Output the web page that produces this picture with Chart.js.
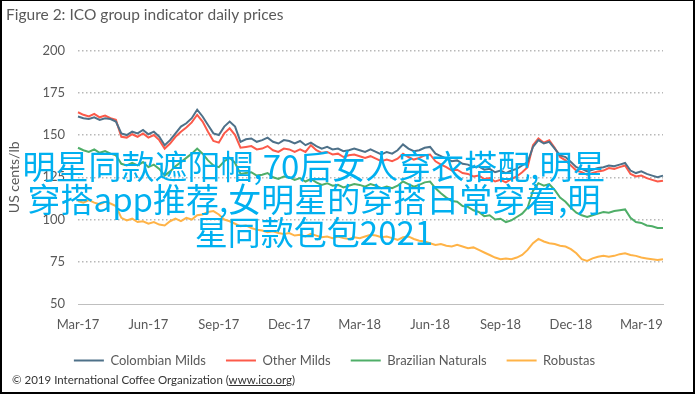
<!DOCTYPE html>
<html>
<head>
<meta charset="utf-8">
<script src="https://cdn.jsdelivr.net/npm/chart.js@4.4.1/dist/chart.umd.min.js"></script>
<style>
body { margin: 0; background: #fff; }
#wrap { position: relative; width: 695px; height: 394px; overflow: hidden; }
#chart { position: absolute; left: 0; top: 0; }
#frame { position: absolute; left: 0; top: 0; width: 695px; height: 394px; box-sizing: border-box; border: 2px solid #000; border-top-width: 1px; pointer-events: none; }
#source { position: absolute; left: 12px; top: 373px; font: 11.5px Lato, sans-serif; color: #333; }
#mark { position: absolute; left: 0; top: 149px; width: 628px; text-align: center; font: 33px/33px "Noto Sans CJK SC", sans-serif; color: #00b0f0; }
</style>
</head>
<body>
<div id="wrap">
  <canvas id="chart" width="695" height="394"></canvas>
  <div id="mark">明星同款遮阳帽,70后女人穿衣搭配,明星<br>穿搭app推荐,女明星的穿搭日常穿着,明<br>星同款包包2021</div>
  <div id="source">© 2019 International Coffee Organization (<u>www.ico.org</u>)</div>
  <div id="frame"></div>
</div>
<script>
"use strict";

// one label every 13 weeks
const quarterLabels = ['Mar-17', 'Jun-17', 'Sep-17', 'Dec-17', 'Mar-18', 'Jun-18', 'Sep-18', 'Dec-18', 'Mar-19'];
const weeksPerLabel = 13;

// weekly readings, US cents/lb
const colombianMilds = [161, 160, 159.5, 160.5, 159, 160, 159.5, 158, 151, 150,
    152, 151, 153, 150.5, 152, 149, 144, 147, 151, 155,
    157, 160, 165, 161, 156, 151, 150, 155, 158, 155,
    146, 147.5, 148, 146, 147, 148.5, 146, 145, 147, 146.5,
    145, 146.5, 144, 145.5, 143.5, 142, 143, 141.5, 142, 140.5,
    141, 142, 141, 140, 141.5, 140, 138.5, 140, 139, 141,
    144.5, 142, 140.5, 141, 142.5, 143, 139, 137.5, 136, 134.5,
    135, 133, 132.5, 131, 131.5, 129.5, 130, 128, 129, 127.5,
    129, 130, 132, 134, 143, 147, 145, 146, 142, 138,
    137, 134, 131, 130, 128.5, 129.5, 130.5, 131, 132, 131.5,
    132.5, 133.5, 129, 127.5, 128.5, 127, 126, 125, 126];

const otherMilds = [163.5, 162, 161, 162.5, 160.5, 161.5, 160, 159, 149, 148.5,
    150.5, 149, 151, 148.5, 150, 147, 142, 145, 149, 152,
    154.5, 157.5, 162, 158, 152, 146.5, 145.5, 151, 154, 150,
    142.5, 143, 143.5, 141.5, 142, 143.5, 141, 140, 142, 141.5,
    140, 141.5, 140, 144, 141, 139.5, 140, 138.5, 139, 137,
    138, 138.5, 137.5, 136.5, 137.5, 136, 134.5, 135.5, 134.5, 136,
    139, 137, 135.5, 136.5, 138, 138.5, 134.5, 132.5, 131, 129,
    129.5, 127.5, 127, 125.5, 126, 124, 124.5, 122.5, 123.5, 122,
    124, 125.5, 128, 131, 144, 148, 145.5, 147, 142.5, 137,
    135, 132, 129, 128, 126.5, 127.5, 128.5, 129, 130.5, 130,
    131, 132, 127, 125.5, 126, 124.5, 123.5, 122.5, 123];

const brazilianNaturals = [142.5, 141, 140, 141.5, 139.5, 140.5, 139, 138, 133, 132,
    133.5, 132, 134, 131, 132.5, 130, 126, 128.5, 131.5, 134,
    136.5, 139, 142, 139, 135, 132, 131, 134.5, 136.5, 133.5,
    127, 127.5, 128, 126, 126.5, 127.5, 125, 124, 125.5, 125,
    123.5, 124.5, 122.5, 124, 122, 120.5, 121.5, 120, 120.5, 119,
    120, 121, 120.5, 119.5, 121, 120, 118.5, 119.5, 118.5, 120,
    122.5, 121, 119.5, 120.5, 122, 122.5, 118.5, 115.5, 113, 111,
    110.5, 108, 107.5, 105.5, 104.5, 102, 102.5, 100, 100.5, 98.5,
    99.5, 101.5, 103.5, 107, 117, 121.5, 120, 121, 117.5, 113,
    110.5, 107, 104, 102.5, 101.5, 102.5, 103.5, 104.5, 104, 105,
    105.5, 106, 101, 98.5, 98, 96.5, 96, 95, 95];

const robustas = [111, 110, 111.5, 110, 109, 110.5, 109.5, 108, 101, 99.5,
    100.5, 98.5, 99, 97.5, 98.5, 97, 96.5, 99, 100.5, 99,
    101, 100, 102.5, 103, 104.5, 105, 103, 100, 99, 97.5,
    96, 96.5, 95, 94, 93.5, 92.5, 93, 92, 91.5, 92,
    90.5, 91, 90, 91.5, 90.5, 89.5, 90, 89, 90, 89,
    88.5, 89.5, 89, 90, 91, 90.5, 89.5, 90, 89, 88,
    89.5, 90, 88.5, 87.5, 87, 86, 85, 85.5, 84.5, 84,
    85, 84, 83, 83.5, 82, 80.5, 79, 77.5, 76.5, 77,
    76.5, 77.5, 79, 82, 86, 88.5, 87, 86, 85.5, 84.5,
    84, 82.5, 80, 76.5, 75.5, 77, 78, 78.5, 78, 78.5,
    79.5, 80, 79, 78.5, 77.5, 77, 76.5, 76, 76.5];

const weeks = colombianMilds.map(function (v, i) { return i; });

const textGrey = '#595959';
const axisFont = { family: 'Lato', size: 13 };

function series(label, data, color) {
    return {
        label: label,
        data: data,
        borderColor: color,
        backgroundColor: color,
        borderWidth: 2,
        pointRadius: 0,
        tension: 0,
        fill: false
    };
}

new Chart(document.getElementById('chart'), {
    type: 'line',
    data: {
        labels: weeks,
        datasets: [
            series('Colombian Milds', colombianMilds, '#4e7189'),
            series('Other Milds', otherMilds, '#fc5a4a'),
            series('Brazilian Naturals', brazilianNaturals, '#4fae68'),
            series('Robustas', robustas, '#ffb347')
        ]
    },
    options: {
        responsive: false,
        animation: false,
        layout: { padding: { top: 0, left: 6, right: 32, bottom: 17 } },
        plugins: {
            title: {
                display: true,
                text: 'Figure 2: ICO group indicator daily prices',
                align: 'start',
                color: textGrey,
                font: { family: 'Lato', size: 15.5, weight: 'normal' },
                padding: { top: 6, bottom: 26 }
            },
            legend: {
                position: 'bottom',
                labels: {
                    usePointStyle: true,
                    pointStyle: 'line',
                    pointStyleWidth: 30,
                    boxWidth: 30,
                    boxHeight: 12,
                    padding: 20,
                    color: textGrey,
                    font: axisFont
                }
            },
            tooltip: { enabled: false }
        },
        scales: {
            x: {
                type: 'category',
                offset: false,
                grid: { display: false, drawTicks: false },
                border: { display: true, color: '#bfbfbf', width: 1 },
                ticks: {
                    autoSkip: false,
                    maxRotation: 0,
                    padding: 13,
                    color: textGrey,
                    font: axisFont,
                    callback: function (value, index) {
                        if (index % weeksPerLabel === 0) return quarterLabels[index / weeksPerLabel];
                        return null;
                    }
                },
                afterFit: function (scale) { scale.height = 30; }
            },
            y: {
                min: 50,
                max: 200,
                ticks: { stepSize: 25, padding: 13, color: textGrey, font: axisFont },
                grid: {
                    drawTicks: false,
                    color: function (ctx) { return ctx.tick.value === 50 ? 'rgba(0,0,0,0)' : '#b8b8b8'; },
                    lineWidth: 1.5
                },
                // dotted grid, no axis line on the left
                border: { display: true, width: 0, dash: [1.5, 2.5] },
                title: { display: true, text: 'US cents/lb', color: textGrey, font: { family: 'Lato', size: 14 }, padding: 0 },
                afterFit: function (scale) { scale.width = 72; }
            }
        }
    }
});
</script>
</body>
</html>
